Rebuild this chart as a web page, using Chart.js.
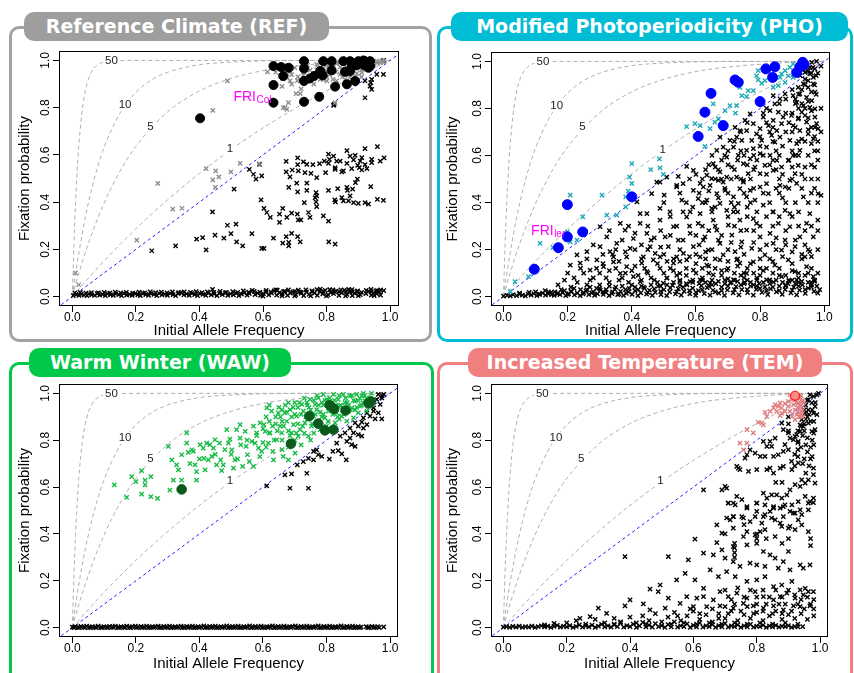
<!DOCTYPE html>
<html><head><meta charset="utf-8">
<script src="https://cdn.jsdelivr.net/npm/chart.js@4.4.1/dist/chart.umd.min.js"></script>
<style>
body{margin:0;background:#fff;width:854px;height:673px;overflow:hidden;position:relative;font-family:"DejaVu Sans",sans-serif}
.box{position:absolute;box-sizing:border-box;border:3px solid;border-radius:10px}
.pill{position:absolute;height:29px;line-height:29px;border-radius:10px;color:#fff;font-weight:bold;font-size:19px;text-align:center;white-space:nowrap}
canvas{position:absolute}
</style></head><body>
<div class="box" style="left:9px;top:26px;width:423px;height:316px;border-color:#a3a3a3"></div>
<div class="box" style="left:437px;top:26px;width:416px;height:316px;border-color:#00bcd4"></div>
<div class="box" style="left:9px;top:362px;width:425px;height:340px;border-color:#00c94a"></div>
<div class="box" style="left:437px;top:362px;width:416px;height:340px;border-color:#f08080"></div>
<div class="pill" style="left:24px;top:12px;width:305px;background:#9e9e9e">Reference Climate (REF)</div>
<div class="pill" style="left:451px;top:12px;width:397px;background:#00bcd4">Modified Photoperiodicity (PHO)</div>
<div class="pill" style="left:29px;top:348px;width:262px;background:#00c94a">Warm Winter (WAW)</div>
<div class="pill" style="left:468px;top:348px;width:354px;background:#f08080">Increased Temperature (TEM)</div>
<canvas id="cREF" width="397" height="296" style="left:10px;top:44px"></canvas>
<canvas id="cPHO" width="400" height="296" style="left:438px;top:44px"></canvas>
<canvas id="cWAW" width="397" height="296" style="left:10px;top:377px"></canvas>
<canvas id="cTEM" width="398" height="296" style="left:438px;top:377px"></canvas>
<script>
// ---------- reference curves (fixation probability for selection strengths 1,5,10,50) ----------
const curveS1 = [[0,0],[0.05,0.077],[0.1,0.151],[0.2,0.287],[0.3,0.41],[0.4,0.522],[0.5,0.623],[0.6,0.714],[0.7,0.796],[0.8,0.871],[0.9,0.939],[1,1]];
const curveS5 = [[0,0],[0.02,0.096],[0.05,0.223],[0.1,0.396],[0.15,0.531],[0.2,0.636],[0.3,0.782],[0.4,0.871],[0.5,0.924],[0.6,0.957],[0.7,0.976],[0.8,0.988],[0.9,0.996],[1,1]];
const curveS10 = [[0,0],[0.01,0.095],[0.02,0.181],[0.04,0.33],[0.06,0.451],[0.08,0.551],[0.1,0.632],[0.15,0.777],[0.2,0.865],[0.25,0.918],[0.3,0.95],[0.4,0.982],[0.5,0.993],[0.6,0.998],[0.8,1],[1,1]];
const curveS50 = [[0,0],[0.002,0.095],[0.005,0.221],[0.01,0.393],[0.015,0.528],[0.02,0.632],[0.03,0.777],[0.04,0.865],[0.05,0.918],[0.06,0.95],[0.08,0.982],[0.1,0.993],[0.15,0.999],[0.2,1],[1,1]];
const diagonal = [[-0.05,-0.05],[1.05,1.05]];
const curveLabels = ['50','10','5','1'];
const curveLabelX = [0.123,0.166,0.246,0.496];
const curveLabelY = [1.0,0.81,0.72,0.625];
const tickValues = [0,0.2,0.4,0.6,0.8,1.0];
const refFriLabel = [0.507,0.828];
const phoFriLabel = [0.086,0.261];

// ---------- REF ----------
const refBand = [[0.003,0.004],[0.012,0.008],[0.021,0.005],[0.028,0.01],[0.037,0.006],[0.046,0.004],[0.052,0.011],[0.061,0.007],[0.07,0.005],[0.078,0.012],[0.086,0.006],[0.095,0.009],[0.104,0.004],[0.111,0.012],[0.12,0.007],[0.129,0.005],[0.137,0.011],[0.146,0.008],[0.155,0.004],[0.162,0.013],[0.171,0.006],[0.18,0.009],[0.188,0.005],[0.197,0.012],[0.206,0.007],[0.214,0.004],[0.222,0.013],[0.231,0.008],[0.24,0.005],[0.248,0.012],[0.257,0.009],[0.266,0.004],[0.273,0.014],[0.282,0.007],[0.291,0.01],[0.299,0.005],[0.308,0.013],[0.317,0.008],[0.325,0.004],[0.333,0.012],[0.342,0.017],[0.351,0.007],[0.359,0.011],[0.368,0.005],[0.377,0.014],[0.385,0.008],[0.394,0.004],[0.402,0.012],[0.411,0.009],[0.42,0.005],[0.428,0.015],[0.437,0.007],[0.441,0.03],[0.446,0.011],[0.455,0.004],[0.463,0.013],[0.472,0.008],[0.481,0.016],[0.489,0.005],[0.498,0.011],[0.507,0.007],[0.515,0.014],[0.524,0.004],[0.532,0.01],[0.541,0.016],[0.55,0.006],[0.557,0.012],[0.566,0.026],[0.575,0.008],[0.583,0.015],[0.592,0.005],[0.601,0.012],[0.609,0.019],[0.618,0.007],[0.627,0.014],[0.635,0.024],[0.643,0.006],[0.652,0.017],[0.66,0.011],[0.669,0.022],[0.677,0.005],[0.686,0.014],[0.694,0.02],[0.703,0.008],[0.711,0.027],[0.72,0.013],[0.728,0.004],[0.737,0.019],[0.745,0.009],[0.754,0.024],[0.762,0.014],[0.771,0.005],[0.779,0.021],[0.788,0.011],[0.796,0.026],[0.805,0.007],[0.813,0.017],[0.822,0.012],[0.83,0.023],[0.839,0.005],[0.847,0.016],[0.856,0.027],[0.864,0.009],[0.873,0.019],[0.881,0.004],[0.889,0.013],[0.898,0.024],[0.906,0.008],[0.924,0.012],[0.932,0.022],[0.941,0.006],[0.949,0.016],[0.958,0.011],[0.966,0.02],[0.98,0.025],[0.6,0.002],[0.64,0.028],[0.66,0.003],[0.7,0.003],[0.72,0.018],[0.75,0.003],[0.78,0.031],[0.8,0.003],[0.82,0.028],[0.84,0.02],[0.86,0.003],[0.87,0.03],[0.88,0.02],[0.9,0.004],[0.91,0.018],[0.94,0.02],[0.95,0.004],[0.96,0.025],[0.97,0.006],
[0.008,0.016],[0.025,0.018],[0.043,0.015],[0.06,0.017],[0.082,0.016],[0.1,0.018],[0.118,0.015],[0.135,0.019],[0.152,0.016],[0.17,0.018],[0.19,0.015],[0.21,0.019],[0.228,0.016],[0.245,0.02],[0.262,0.017],[0.28,0.019],[0.298,0.016],[0.315,0.02],[0.335,0.017],[0.352,0.02],[0.372,0.018],[0.39,0.021],[0.408,0.017],[0.425,0.02],[0.445,0.018],[0.465,0.022],[0.485,0.018],[0.505,0.021],[0.52,0.018],[0.538,0.024],[0.555,0.019],[0.572,0.022],[0.59,0.019],[0.61,0.026],[0.625,0.02],[0.645,0.027],[0.665,0.021],[0.68,0.028],[0.7,0.022],[0.715,0.02],[0.735,0.028],[0.755,0.021],[0.77,0.029],[0.79,0.022],[0.81,0.029],[0.825,0.021],[0.845,0.028],[0.86,0.022],[0.88,0.029],[0.895,0.021],[0.925,0.026],[0.94,0.03],[0.955,0.024],[0.97,0.028]];
const refBlack = [[0.673,0.573],[0.709,0.587],[0.709,0.559],[0.727,0.570],[0.738,0.560],[0.757,0.559],[0.778,0.563],[0.806,0.603],[0.809,0.581],[0.832,0.574],[0.843,0.574],[0.864,0.618],[0.874,0.595],[0.885,0.579],[0.890,0.598],[0.906,0.574],[0.911,0.588],[0.921,0.627],[0.921,0.559],[0.942,0.581],[0.942,0.567],[0.960,0.635],[0.969,0.574],[0.981,0.587],[0.903,0.546],[0.927,0.542],[0.864,0.564],[0.853,0.532],[0.827,0.539],[0.806,0.564],[0.793,0.574],[0.822,0.595],[0.673,0.528],[0.692,0.536],[0.711,0.532],[0.732,0.525],[0.751,0.522],[0.769,0.504],[0.797,0.525],[0.827,0.546],[0.848,0.528],[0.879,0.542],[0.898,0.556],[0.911,0.536],
[0.557,0.539],[0.570,0.518],[0.578,0.497],[0.589,0.560],[0.596,0.511],[0.685,0.507],[0.706,0.480],[0.709,0.443],[0.738,0.480],[0.738,0.450],[0.767,0.440],[0.769,0.426],[0.806,0.450],[0.835,0.457],[0.864,0.462],[0.866,0.450],[0.882,0.455],[0.891,0.483],[0.897,0.497],[0.939,0.466],[0.681,0.462],[0.509,0.455],
[0.594,0.409],[0.603,0.373],[0.612,0.356],[0.623,0.335],[0.652,0.349],[0.652,0.314],[0.662,0.373],[0.675,0.335],[0.690,0.353],[0.708,0.349],[0.711,0.325],[0.719,0.325],[0.730,0.398],[0.743,0.356],[0.748,0.335],[0.764,0.419],[0.767,0.401],[0.769,0.381],[0.790,0.342],[0.806,0.319],[0.826,0.409],[0.828,0.401],[0.848,0.419],[0.853,0.405],[0.869,0.405],[0.874,0.426],[0.885,0.398],[0.900,0.395],[0.921,0.398],[0.932,0.391],[0.960,0.412],[0.979,0.407],
[0.441,0.359],[0.391,0.243],[0.410,0.250],[0.421,0.198],[0.449,0.260],[0.477,0.247],[0.488,0.302],[0.499,0.267],[0.515,0.307],[0.517,0.232],[0.536,0.215],[0.565,0.267],[0.596,0.204],[0.603,0.204],[0.633,0.247],[0.662,0.226],[0.673,0.254],[0.681,0.229],[0.681,0.215],[0.690,0.268],[0.709,0.254],[0.717,0.232],[0.807,0.232],[0.827,0.222],[0.325,0.215],[0.250,0.194],
[0.921,0.913],[0.942,0.920],[0.958,0.941],[0.979,0.941],[0.937,0.891],[0.942,0.877],[0.939,0.906],[0.921,0.842],[0.822,0.810],[0.979,0.997],[0.98,1.0],[0.824,0.814]];
const refGray = [[0.203,0.239],[0.269,0.479],[0.316,0.370],[0.345,0.374],[0.421,0.542],[0.442,0.494],[0.451,0.532],[0.450,0.462],[0.461,0.507],[0.499,0.528],[0.528,0.564],[0.588,0.563],
[0.614,0.952],[0.488,0.913],[0.442,0.789],[0.662,0.922],[0.675,0.931],[0.685,0.913],[0.708,0.915],[0.717,0.915],[0.727,0.937],[0.748,0.959],[0.769,0.983],[0.774,0.969],[0.790,0.969],[0.801,0.955],[0.806,0.976],[0.816,0.987],[0.832,0.987],[0.843,0.973],[0.864,0.969],[0.884,0.990],[0.906,0.987],[0.927,0.997],[0.942,0.987],[0.958,0.997],[0.974,0.997],[0.980,0.997],[0.843,0.941],[0.858,0.920],[0.874,0.927],[0.895,0.945],[0.911,0.948],[0.790,0.920],[0.801,0.913],[0.832,0.913],[0.717,0.859],[0.704,0.859],[0.680,0.821],[0.664,0.800],[0.675,0.793],[0.827,0.821],[0.664,0.979],[0.685,0.955],[0.654,0.934],[0.670,0.800],[0.02,0.05],[0.01,0.1],
[0.64,0.95],[0.65,0.97],[0.67,0.96],[0.69,0.94],[0.7,0.97],[0.71,0.93],[0.73,0.95],[0.74,0.98],[0.76,0.94],[0.77,0.96],[0.78,0.99],[0.79,0.95],[0.8,0.98],[0.81,0.94],[0.82,0.97],[0.83,0.95],[0.84,0.99],[0.85,0.96],[0.86,0.94],[0.87,0.98],[0.88,0.95],[0.89,0.97],[0.9,0.99],[0.91,0.96],[0.92,0.98],[0.93,0.96],[0.94,0.99],[0.95,0.98],[0.96,0.99],[0.97,0.99],[0.66,0.89],[0.69,0.9],[0.72,0.88],[0.74,0.91],[0.76,0.9],[0.78,0.92],[0.8,0.93],[0.82,0.92],[0.85,0.93],[0.87,0.94],[0.89,0.93],[0.91,0.93]];
const refCircles = [[0.633,0.976],[0.657,0.972],[0.681,0.969],[0.729,0.997],[0.729,0.966],[0.790,0.997],[0.816,0.997],[0.853,0.997],[0.874,0.997],[0.900,0.997],[0.921,0.997],[0.937,0.997],[0.780,0.955],[0.816,0.958],[0.858,0.952],[0.879,0.976],[0.916,0.983],[0.932,0.969],[0.664,0.934],[0.729,0.913],[0.748,0.924],[0.761,0.934],[0.788,0.937],[0.827,0.889],[0.864,0.899],[0.890,0.913],[0.633,0.896],[0.729,0.825],[0.777,0.846],[0.633,0.821],[0.402,0.755],[0.874,0.955],[0.895,0.979],[0.921,0.979],[0.937,0.976],[0.916,1.0]];

// ---------- PHO ----------
const phoBand = [[0.0,0.002],[0.012,0.005],[0.021,0.003],[0.03,0.008],[0.041,0.004],[0.05,0.01],[0.059,0.006],[0.068,0.003],[0.077,0.011],[0.086,0.006],[0.095,0.013],[0.104,0.004],[0.113,0.009],[0.122,0.015],[0.131,0.006],[0.14,0.011],[0.149,0.018],[0.158,0.005],[0.167,0.012],[0.176,0.008],[0.185,0.017],[0.194,0.004],[0.203,0.013],[0.212,0.021],[0.221,0.007],[0.23,0.015],[0.239,0.004],[0.248,0.011],[0.257,0.024],[0.266,0.008],[0.275,0.016],[0.284,0.005],[0.293,0.012],[0.302,0.027],[0.311,0.009],[0.32,0.018],[0.329,0.004],[0.338,0.013],[0.347,0.031],[0.356,0.008],[0.365,0.022],[0.374,0.005],[0.383,0.014],[0.392,0.035],[0.401,0.009],[0.41,0.024],[0.419,0.004],[0.428,0.016],[0.437,0.04],[0.446,0.01],[0.455,0.027],[0.464,0.005],[0.473,0.018],[0.482,0.044],[0.491,0.008],[0.5,0.03],[0.509,0.004],[0.518,0.02],[0.527,0.048],[0.536,0.011],[0.545,0.033],[0.554,0.006],[0.563,0.022],[0.572,0.05],[0.581,0.012],[0.59,0.036],[0.599,0.005],[0.608,0.025],[0.617,0.047],[0.626,0.013],[0.635,0.038],[0.644,0.006],[0.653,0.027],[0.662,0.055],[0.671,0.015],[0.68,0.04],[0.689,0.005],[0.698,0.028],[0.707,0.058],[0.716,0.016],[0.725,0.042],[0.734,0.007],[0.743,0.03],[0.752,0.06],[0.761,0.017],[0.77,0.044],[0.779,0.006],[0.788,0.031],[0.797,0.055],[0.806,0.018],[0.815,0.041],[0.824,0.008],[0.833,0.033],[0.842,0.062],[0.851,0.02],[0.86,0.045],[0.869,0.009],[0.878,0.03],[0.887,0.055],[0.896,0.016],[0.905,0.04],[0.914,0.007],[0.923,0.027],[0.932,0.05],[0.941,0.014],[0.95,0.036],[0.959,0.06],[0.968,0.022],[0.977,0.045],[0.986,0.03],
[0.15,0.008],[0.2,0.009],[0.25,0.017],[0.28,0.02],[0.31,0.02],[0.34,0.02],[0.36,0.012],[0.39,0.02],[0.42,0.03],[0.45,0.018],[0.47,0.033],[0.49,0.022],[0.52,0.037],[0.54,0.02],[0.56,0.04],[0.58,0.025],[0.6,0.018],[0.62,0.03],[0.64,0.045],[0.66,0.02],[0.68,0.025],[0.7,0.045],[0.72,0.03],[0.74,0.05],[0.76,0.03],[0.78,0.05],[0.8,0.035],[0.82,0.025],[0.84,0.04],[0.86,0.025],[0.88,0.045],[0.9,0.028],[0.92,0.045],[0.94,0.03],[0.96,0.04],[0.98,0.015],[0.7,0.075],[0.75,0.08],[0.62,0.07],[0.55,0.065],[0.48,0.06],[0.85,0.07],[0.9,0.07],[0.4,0.05],[0.33,0.045],[0.27,0.04],[0.22,0.035],[0.18,0.03],
[0.1,0.02],[0.13,0.025],[0.16,0.02],[0.19,0.025],[0.24,0.03],[0.29,0.035],[0.35,0.04],[0.38,0.03],[0.43,0.045],[0.46,0.05],[0.51,0.05],[0.53,0.06],[0.57,0.055],[0.59,0.06],[0.63,0.06],[0.67,0.065],[0.69,0.055],[0.73,0.065],[0.77,0.06],[0.79,0.07],[0.81,0.06],[0.83,0.07],[0.87,0.06],[0.89,0.065],[0.91,0.055],[0.93,0.065],[0.95,0.06],[0.97,0.065],
[0.05,0.015],[0.08,0.018],[0.11,0.01],[0.14,0.02],[0.17,0.015],[0.21,0.022],[0.26,0.03],[0.3,0.035],[0.32,0.03],[0.37,0.045],[0.41,0.04],[0.44,0.035],[0.49,0.045],[0.55,0.05],[0.61,0.055],[0.65,0.05],[0.71,0.06],[0.75,0.055],[0.79,0.045],[0.83,0.055],[0.88,0.05],[0.92,0.06],[0.96,0.05]];
const phoBlack = [[0.976,1.0],[0.961,0.996],[0.945,0.989],[0.955,0.975],[0.971,0.968],[0.940,0.953],[0.955,0.947],[0.966,0.932],[0.950,0.918],[0.935,0.904],[0.919,0.890],[0.950,0.890],[0.971,0.869],[0.924,0.862],[0.903,0.855],[0.945,0.847],[0.914,0.826],[0.935,0.812],[0.955,0.805],[0.971,0.798],[0.930,0.784],[0.898,0.770],[0.919,0.756],[0.945,0.742],[0.971,0.720],[0.981,0.714],[0.903,0.727],[0.924,0.706],[0.950,0.692],[0.966,0.671],[0.893,0.664],[0.914,0.650],[0.924,0.622],[0.903,0.600],[0.888,0.579],[0.919,0.558],[0.909,0.523],[0.893,0.494],[0.878,0.466],[0.914,0.481],
[0.878,0.862],[0.862,0.841],[0.841,0.855],[0.846,0.819],[0.831,0.791],[0.857,0.784],[0.872,0.763],[0.841,0.749],[0.867,0.735],[0.852,0.706],[0.826,0.727],[0.810,0.763],[0.800,0.714],[0.836,0.685],[0.862,0.678],[0.846,0.657],[0.820,0.636],[0.805,0.664],[0.789,0.692],[0.779,0.735],[0.769,0.777],[0.753,0.749],[0.758,0.706],[0.774,0.664],[0.779,0.629],[0.800,0.608],[0.831,0.600],[0.852,0.579],[0.867,0.551],[0.841,0.537],[0.815,0.558],[0.800,0.523],[0.784,0.551],[0.769,0.586],[0.758,0.622],[0.743,0.664],[0.737,0.706],[0.722,0.720],[0.727,0.678],[0.717,0.636],[0.732,0.600],[0.748,0.565],[0.763,0.523],[0.748,0.494],[0.727,0.508],[0.712,0.551],[0.696,0.593],[0.685,0.636],[0.706,0.664],[0.675,0.678],[0.665,0.622],[0.654,0.565],[0.675,0.530],[0.696,0.508],[0.670,0.494],[0.649,0.502],[0.634,0.516],[0.613,0.481],[0.592,0.537],[0.571,0.554],[0.540,0.473],[0.488,0.487],[0.509,0.508],[0.545,0.511],[0.971,0.763],[0.976,0.735],[0.961,0.833],[0.966,0.904],
[0.95,0.96],[0.965,0.975],[0.935,0.965],[0.925,0.94],[0.96,0.95],[0.975,0.94],[0.94,0.925],[0.93,0.88],[0.96,0.87],[0.975,0.86],[0.91,0.84],[0.95,0.83],[0.92,0.8],[0.96,0.79],[0.94,0.77],[0.91,0.72],[0.95,0.71],[0.93,0.67],[0.96,0.65],[0.92,0.6],[0.95,0.6],[0.98,0.62],[0.9,0.62],[0.94,0.55],[0.97,0.55],[0.93,0.52],[0.96,0.5],
[0.478,0.487],[0.501,0.431],[0.540,0.466],[0.556,0.410],[0.592,0.452],[0.607,0.417],[0.623,0.466],[0.634,0.410],[0.649,0.375],[0.665,0.438],[0.675,0.396],[0.691,0.452],[0.696,0.367],[0.717,0.424],[0.732,0.396],[0.737,0.459],[0.758,0.424],[0.769,0.452],[0.784,0.410],[0.800,0.466],[0.810,0.389],[0.826,0.438],[0.841,0.360],[0.862,0.473],[0.878,0.367],[0.893,0.353],[0.935,0.424],[0.955,0.353],[0.981,0.438],[0.447,0.353],[0.462,0.438],[0.416,0.403],[0.426,0.353],[0.488,0.375],[0.519,0.360],[0.582,0.360],[0.613,0.353],[0.644,0.473],[0.685,0.487],[0.717,0.360],[0.748,0.487],
[0.301,0.297],[0.322,0.254],[0.332,0.191],[0.353,0.226],[0.364,0.311],[0.379,0.283],[0.395,0.205],[0.405,0.247],[0.426,0.311],[0.447,0.269],[0.457,0.212],[0.473,0.184],[0.488,0.325],[0.504,0.254],[0.514,0.212],[0.530,0.297],[0.545,0.240],[0.561,0.184],[0.571,0.339],[0.582,0.269],[0.592,0.212],[0.607,0.311],[0.613,0.169],[0.628,0.254],[0.639,0.198],[0.654,0.325],[0.665,0.283],[0.675,0.226],[0.685,0.177],[0.701,0.304],[0.712,0.261],[0.722,0.191],[0.737,0.325],[0.743,0.233],[0.758,0.283],[0.774,0.205],[0.789,0.311],[0.800,0.254],[0.815,0.177],[0.831,0.269],[0.841,0.226],[0.857,0.311],[0.867,0.198],[0.878,0.240],[0.893,0.297],[0.909,0.212],[0.924,0.254],[0.945,0.311],[0.966,0.254],[0.98,0.325],[0.940,0.169],[0.779,0.332],[0.623,0.240],[0.540,0.169],[0.488,0.169],[0.436,0.169],[0.384,0.169],[0.343,0.169],[0.260,0.191],[0.229,0.177],[0.301,0.212],[0.99,0.43],[0.955,0.191],
[0.208,0.134],[0.239,0.142],[0.270,0.113],[0.291,0.156],[0.312,0.127],[0.343,0.148],[0.364,0.099],[0.384,0.127],[0.405,0.085],[0.431,0.142],[0.447,0.106],[0.467,0.156],[0.488,0.120],[0.509,0.078],[0.530,0.142],[0.550,0.099],[0.571,0.156],[0.592,0.113],[0.613,0.071],[0.634,0.134],[0.654,0.092],[0.675,0.156],[0.696,0.113],[0.717,0.071],[0.737,0.142],[0.758,0.099],[0.779,0.148],[0.800,0.120],[0.820,0.071],[0.846,0.134],[0.867,0.085],[0.888,0.156],[0.909,0.106],[0.914,0.071],[0.945,0.127],[0.966,0.085],[0.727,0.156],[0.644,0.057],[0.582,0.064],[0.498,0.057],[0.426,0.064],
[0.81,0.78],[0.82,0.74],[0.83,0.7],[0.84,0.66],[0.85,0.62],[0.86,0.6],[0.87,0.64],[0.88,0.7],[0.89,0.74],[0.9,0.78],[0.91,0.82],[0.92,0.86],[0.93,0.82],[0.94,0.8],[0.95,0.76],[0.96,0.72],[0.97,0.68],[0.98,0.66],[0.89,0.58],[0.9,0.55],[0.91,0.6],[0.92,0.66],[0.87,0.52],[0.86,0.5],[0.85,0.54],[0.84,0.58],[0.83,0.56],[0.82,0.52],[0.81,0.6],[0.8,0.64],[0.79,0.58],[0.78,0.54],[0.77,0.5],[0.76,0.56],[0.75,0.6],[0.74,0.62],[0.73,0.58],[0.72,0.54],[0.71,0.5],[0.7,0.56],[0.69,0.6],[0.68,0.58],[0.67,0.54],[0.66,0.5],[0.65,0.6],[0.64,0.56],[0.63,0.54],[0.62,0.5],[0.6,0.52],[0.58,0.5],[0.56,0.48],
[0.55,0.44],[0.57,0.4],[0.59,0.38],[0.61,0.44],[0.63,0.4],[0.65,0.36],[0.67,0.42],[0.69,0.46],[0.71,0.4],[0.73,0.36],[0.75,0.44],[0.77,0.4],[0.79,0.36],[0.81,0.44],[0.83,0.4],[0.85,0.46],[0.87,0.42],[0.89,0.46],[0.91,0.4],[0.93,0.46],[0.95,0.4],[0.97,0.46],[0.5,0.4],[0.52,0.34],[0.54,0.3],[0.56,0.36],[0.58,0.3],[0.6,0.26],[0.62,0.3],[0.64,0.28],[0.66,0.3],[0.68,0.26],[0.7,0.34],[0.72,0.3],[0.74,0.28],[0.76,0.34],[0.78,0.28],[0.8,0.3],[0.82,0.34],[0.84,0.3],[0.86,0.34],[0.88,0.28],[0.9,0.34],[0.92,0.3],[0.94,0.28],[0.96,0.3],[0.98,0.28],[0.45,0.3],[0.47,0.25],[0.49,0.28],[0.41,0.27],[0.43,0.22],[0.37,0.24],[0.39,0.3],[0.33,0.28],[0.35,0.2],[0.28,0.22],[0.31,0.18],
[0.2,0.1],[0.22,0.08],[0.25,0.1],[0.27,0.07],[0.3,0.1],[0.32,0.08],[0.35,0.12],[0.37,0.08],[0.4,0.11],[0.42,0.09],[0.44,0.12],[0.46,0.08],[0.5,0.1],[0.52,0.12],[0.54,0.09],[0.57,0.12],[0.6,0.1],[0.62,0.12],[0.64,0.1],[0.66,0.12],[0.68,0.09],[0.7,0.12],[0.72,0.1],[0.74,0.09],[0.76,0.12],[0.78,0.1],[0.8,0.09],[0.82,0.12],[0.84,0.1],[0.86,0.12],[0.88,0.09],[0.9,0.11],[0.92,0.1],[0.94,0.09],[0.96,0.12],[0.98,0.1],[0.45,0.2],[0.5,0.18],[0.55,0.2],[0.6,0.18],[0.65,0.2],[0.7,0.2],[0.75,0.18],[0.8,0.2],[0.85,0.2],[0.9,0.19],[0.95,0.2],[0.53,0.16],[0.63,0.16],[0.73,0.16],[0.83,0.16],[0.93,0.16],
[0.17,0.05],[0.19,0.07],[0.21,0.04],[0.23,0.06],[0.24,0.12],[0.26,0.05],[0.26,0.16],[0.28,0.08],[0.29,0.12],[0.3,0.05],[0.31,0.14],[0.33,0.06],[0.33,0.11],[0.34,0.18],[0.36,0.07],[0.36,0.15],[0.38,0.1],[0.38,0.19],[0.39,0.06],[0.41,0.13],[0.41,0.2],[0.43,0.07],[0.43,0.16],[0.45,0.1],[0.46,0.24],[0.47,0.07],[0.48,0.14],[0.49,0.21],[0.51,0.08],[0.51,0.15],[0.52,0.26],[0.53,0.11],[0.55,0.07],[0.55,0.15],[0.56,0.24],[0.57,0.09],[0.58,0.17],[0.59,0.07],[0.6,0.14],[0.61,0.22],[0.62,0.08],[0.63,0.19],[0.64,0.13],[0.65,0.07],[0.66,0.16],[0.67,0.24],[0.68,0.11],[0.69,0.07],[0.7,0.15],[0.71,0.23],[0.72,0.07],[0.73,0.13],[0.74,0.21],[0.75,0.1],[0.76,0.07],[0.77,0.14],[0.78,0.23],[0.79,0.08],[0.8,0.16],[0.81,0.11],[0.82,0.22],[0.83,0.07],[0.84,0.15],[0.85,0.25],[0.86,0.09],[0.87,0.17],[0.88,0.22],[0.89,0.07],[0.9,0.14],[0.91,0.24],[0.92,0.08],[0.93,0.18],[0.94,0.22],[0.95,0.1],[0.96,0.17],[0.97,0.07],[0.98,0.2],
[0.62,0.4],[0.64,0.45],[0.66,0.55],[0.68,0.5],[0.7,0.62],[0.72,0.66],[0.74,0.7],[0.76,0.74],[0.78,0.6],[0.8,0.68],[0.82,0.8],[0.84,0.72],[0.86,0.82],[0.88,0.78],[0.9,0.7],[0.92,0.76],[0.94,0.66],[0.96,0.56],[0.98,0.5],[0.66,0.38],[0.7,0.44],[0.74,0.5],[0.78,0.46],[0.82,0.48],[0.86,0.44],[0.9,0.5],[0.94,0.5],[0.98,0.4],[0.72,0.38],[0.76,0.38],[0.84,0.36],[0.88,0.4],[0.92,0.36],[0.96,0.44],[0.98,0.58],[0.97,0.62],[0.99,0.7],[0.99,0.8],[0.88,0.84],[0.9,0.88],[0.94,0.9],[0.97,0.9],[0.98,0.95],[0.99,0.98]];
const phoTeal = [[0.903,0.989],[0.893,0.975],[0.878,0.961],[0.867,0.947],[0.862,0.932],[0.888,0.939],[0.903,0.932],[0.878,0.911],[0.857,0.897],[0.841,0.890],[0.815,0.918],[0.805,0.907],[0.794,0.921],[0.789,0.939],[0.779,0.876],[0.763,0.876],[0.758,0.850],[0.743,0.855],[0.727,0.812],[0.706,0.812],[0.691,0.791],[0.670,0.756],[0.659,0.742],[0.644,0.714],[0.613,0.727],[0.597,0.735],[0.571,0.723],[0.685,0.735],[0.723,0.780],[0.628,0.639],[0.486,0.586],[0.459,0.540],[0.488,0.547],[0.400,0.565],[0.393,0.508],[0.498,0.520],[0.654,0.819],[0.737,0.890],[0.794,0.961],
[0.208,0.431],[0.307,0.431],[0.322,0.346],[0.353,0.346],[0.381,0.424],[0.389,0.448],[0.381,0.381],[0.400,0.481],[0.247,0.339],[0.199,0.275],[0.114,0.226],[0.154,0.208],[0.229,0.240],[0.208,0.233],[0.096,0.130],[0.078,0.085],[0.036,0.064],[0.021,0.021]];
const phoCircles = [[0.818,0.968],[0.846,0.977],[0.839,0.932],[0.914,0.953],[0.924,0.977],[0.933,0.996],[0.937,0.986],[0.722,0.921],[0.732,0.911],[0.647,0.864],[0.628,0.784],[0.685,0.727],[0.800,0.829],[0.607,0.681],[0.199,0.391],[0.400,0.424],[0.247,0.275],[0.199,0.254],[0.171,0.208],[0.096,0.116]];

// ---------- WAW ----------
const wawBand = [[0.0,0.002],[0.009,0.004],[0.018,0.001],[0.027,0.005],[0.036,0.002],[0.045,0.006],[0.054,0.001],[0.063,0.004],[0.072,0.002],[0.081,0.006],[0.09,0.001],[0.099,0.004],[0.108,0.001],[0.117,0.005],[0.126,0.003],[0.135,0.006],[0.144,0.001],[0.153,0.004],[0.162,0.002],[0.171,0.006],[0.18,0.001],[0.189,0.004],[0.198,0.006],[0.207,0.002],[0.216,0.005],[0.225,0.002],[0.234,0.006],[0.243,0.001],[0.252,0.004],[0.261,0.003],[0.27,0.006],[0.279,0.001],[0.288,0.005],[0.297,0.002],[0.306,0.006],[0.315,0.001],[0.324,0.004],[0.333,0.003],[0.342,0.006],[0.351,0.001],[0.36,0.005],[0.369,0.002],[0.378,0.006],[0.387,0.001],[0.396,0.004],[0.405,0.003],[0.414,0.007],[0.423,0.001],[0.432,0.005],[0.441,0.002],[0.45,0.006],[0.459,0.001],[0.468,0.004],[0.477,0.003],[0.486,0.007],[0.495,0.001],[0.504,0.005],[0.513,0.002],[0.522,0.006],[0.531,0.001],[0.54,0.004],[0.549,0.003],[0.558,0.007],[0.567,0.001],[0.576,0.005],[0.585,0.002],[0.594,0.006],[0.603,0.001],[0.612,0.004],[0.621,0.003],[0.63,0.007],[0.639,0.001],[0.648,0.005],[0.657,0.002],[0.666,0.006],[0.675,0.001],[0.684,0.004],[0.693,0.003],[0.702,0.007],[0.711,0.001],[0.72,0.005],[0.729,0.002],[0.738,0.006],[0.747,0.001],[0.756,0.004],[0.765,0.003],[0.774,0.007],[0.783,0.001],[0.792,0.005],[0.801,0.002],[0.81,0.006],[0.819,0.001],[0.828,0.004],[0.837,0.003],[0.846,0.007],[0.855,0.001],[0.864,0.005],[0.873,0.002],[0.882,0.006],[0.891,0.001],[0.9,0.004],[0.909,0.002],[0.925,0.004],[0.934,0.001],[0.943,0.005],[0.952,0.002],[0.961,0.004],[0.98,0.003],
[0.005,0],[0.022,0],[0.04,0],[0.058,0],[0.076,0],[0.094,0],[0.112,0],[0.13,0],[0.148,0],[0.166,0],[0.184,0],[0.202,0],[0.22,0],[0.238,0],[0.256,0],[0.274,0],[0.292,0],[0.31,0],[0.328,0],[0.346,0],[0.364,0],[0.382,0],[0.4,0],[0.418,0],[0.436,0],[0.454,0],[0.472,0],[0.49,0],[0.508,0],[0.526,0],[0.544,0],[0.562,0],[0.58,0],[0.598,0],[0.616,0],[0.634,0],[0.652,0],[0.67,0],[0.688,0],[0.706,0],[0.724,0],[0.742,0],[0.76,0],[0.778,0],[0.796,0],[0.814,0],[0.832,0],[0.85,0],[0.868,0],[0.886,0],[0.904,0],[0.93,0],[0.948,0],[0.966,0]];
const wawBlack = [[0.612,0.605],[0.669,0.652],[0.690,0.656],[0.685,0.595],[0.743,0.595],[0.738,0.659],[0.708,0.695],[0.743,0.723],[0.759,0.752],[0.774,0.738],[0.785,0.731],[0.809,0.719],[0.820,0.752],[0.837,0.756],[0.848,0.742],[0.862,0.716],[0.864,0.795],[0.879,0.781],[0.890,0.774],[0.900,0.824],[0.885,0.831],[0.911,0.817],[0.832,0.788],[0.843,0.817],[0.858,0.831],[0.874,0.852],[0.890,0.874],[0.900,0.860],[0.911,0.877],[0.916,0.895],[0.927,0.917],[0.937,0.903],[0.953,0.891],[0.974,0.891],[0.963,0.917],[0.948,0.938],[0.969,0.953],[0.958,0.974],[0.974,0.981],[0.98,0.996],[0.975,0.99],[0.963,0.996],[0.948,0.924],[0.916,0.852],[0.927,0.867],[0.874,0.809],[0.759,0.716],[0.727,0.709],[0.769,0.759]];
const wawGreen = [[0.132,0.609],[0.171,0.556],[0.187,0.645],[0.200,0.623],[0.218,0.670],[0.229,0.630],[0.229,0.609],[0.247,0.645],[0.218,0.570],[0.247,0.559],[0.268,0.552],[0.302,0.774],[0.313,0.716],[0.318,0.630],[0.307,0.587],[0.328,0.695],[0.334,0.673],[0.344,0.738],[0.344,0.630],[0.360,0.831],[0.360,0.788],[0.365,0.748],[0.376,0.759],[0.381,0.752],[0.386,0.695],[0.391,0.666],[0.391,0.630],[0.402,0.781],[0.412,0.766],[0.414,0.723],[0.418,0.673],[0.423,0.788],[0.428,0.716],[0.433,0.781],[0.439,0.731],[0.444,0.766],[0.449,0.802],[0.454,0.695],[0.463,0.788],[0.467,0.716],[0.470,0.670],[0.475,0.695],[0.486,0.845],[0.491,0.788],[0.496,0.805],[0.502,0.759],[0.507,0.681],[0.512,0.716],[0.517,0.845],[0.528,0.867],[0.528,0.809],[0.536,0.688],[0.544,0.838],[0.547,0.774],[0.551,0.738],[0.557,0.709],[0.565,0.795],[0.570,0.688],[0.575,0.788],[0.580,0.831],[0.586,0.766],[0.591,0.874],[0.596,0.752],[0.603,0.867],[0.607,0.838],[0.612,0.938],[0.617,0.788],[0.622,0.831],[0.627,0.924],[0.631,0.752],[0.633,0.716],[0.643,0.802],[0.648,0.917],[0.654,0.860],[0.659,0.831],[0.664,0.731],[0.669,0.917],[0.675,0.881],[0.680,0.716],[0.685,0.931],[0.690,0.831],[0.696,0.867],[0.701,0.745],[0.706,0.903],[0.711,0.817],[0.717,0.845],[0.722,0.953],[0.727,0.924],[0.732,0.874],[0.738,0.960],[0.743,0.817],[0.748,0.974],[0.753,0.860],[0.759,0.903],[0.764,0.953],[0.769,0.931],[0.774,0.981],[0.780,0.845],[0.785,0.960],[0.790,0.996],[0.795,0.895],[0.801,0.974],[0.806,0.924],[0.811,0.838],[0.816,0.953],[0.822,0.996],[0.827,0.874],[0.832,0.917],[0.837,0.974],[0.843,0.946],[0.848,0.903],[0.853,0.996],[0.858,0.960],[0.864,0.881],[0.869,0.924],[0.874,0.989],[0.879,0.938],[0.885,0.895],[0.890,0.967],[0.895,0.996],[0.900,0.917],[0.906,0.946],[0.911,0.989],[0.916,1.0],[0.921,0.967],[0.927,0.924],[0.932,0.946],[0.937,0.981],[0.942,1.0],[0.948,0.974],
[0.63,0.86],[0.64,0.9],[0.65,0.94],[0.66,0.88],[0.67,0.95],[0.68,0.84],[0.69,0.9],[0.7,0.96],[0.71,0.87],[0.72,0.91],[0.73,0.98],[0.74,0.89],[0.75,0.93],[0.76,0.97],[0.77,0.88],[0.78,0.92],[0.79,0.95],[0.8,0.86],[0.81,0.98],[0.82,0.91],[0.83,0.95],[0.84,0.99],[0.85,0.93],[0.86,0.98],[0.87,0.95],[0.88,0.99],[0.89,0.93],[0.9,0.97],[0.91,0.95],[0.92,0.99],[0.71,0.94],[0.74,0.95],[0.77,0.99],[0.79,0.91],[0.82,0.94],[0.84,0.89],[0.86,0.92],[0.66,0.8],[0.69,0.79],[0.73,0.83],[0.76,0.83],[0.79,0.85],[0.62,0.83],[0.68,0.77],[0.72,0.78],[0.75,0.8],[0.58,0.82],[0.6,0.79],[0.66,0.76],[0.7,0.8],
[0.6,0.85],[0.61,0.9],[0.62,0.88],[0.635,0.8],[0.645,0.84],[0.655,0.9],[0.665,0.86],[0.675,0.92],[0.685,0.82],[0.695,0.94],[0.705,0.83],[0.715,0.96],[0.725,0.86],[0.735,0.9],[0.745,0.94],[0.755,0.87],[0.765,0.91],[0.775,0.95],[0.785,0.9],[0.795,0.97],[0.805,0.88],[0.815,0.93],[0.825,0.97],[0.835,0.9],[0.845,0.95],[0.855,0.91],[0.865,0.96],[0.875,0.93],[0.885,0.97],[0.895,0.94],[0.905,0.98],[0.915,0.96],[0.925,0.98],[0.935,0.97],[0.7,0.91],[0.68,0.96],[0.66,0.93],[0.64,0.87],[0.62,0.95],[0.57,0.86],[0.55,0.8],[0.53,0.78],[0.5,0.74],[0.48,0.76],[0.45,0.74],[0.4,0.72],[0.37,0.7],[0.52,0.72],[0.59,0.73],[0.61,0.77]];
const wawCircles = [[0.344,0.590],[0.688,0.785],[0.746,0.903],[0.774,0.871],[0.795,0.842],[0.822,0.845],[0.824,0.934],[0.860,0.927],[0.932,0.957],[0.94,0.965],[0.81,0.95]];

// ---------- TEM ----------
const temBand = [[0.0,0.002],[0.01,0.004],[0.02,0.001],[0.03,0.005],[0.04,0.002],[0.05,0.006],[0.06,0.001],[0.07,0.004],[0.08,0.002],[0.09,0.006],[0.1,0.001],[0.11,0.004],[0.12,0.008],[0.13,0.003],[0.14,0.006],[0.15,0.001],[0.16,0.005],[0.17,0.01],[0.18,0.002],[0.19,0.006],[0.2,0.003],[0.21,0.009],[0.22,0.001],[0.23,0.005],[0.24,0.012],[0.25,0.002],[0.26,0.007],[0.27,0.003],[0.28,0.011],[0.29,0.001],[0.3,0.006],[0.31,0.014],[0.32,0.003],[0.33,0.008],[0.34,0.002],[0.35,0.012],[0.36,0.004],[0.37,0.018],[0.38,0.002],[0.39,0.009],[0.4,0.004],[0.41,0.015],[0.42,0.001],[0.43,0.007],[0.44,0.022],[0.45,0.003],[0.46,0.011],[0.47,0.002],[0.48,0.017],[0.49,0.004],[0.5,0.009],[0.51,0.001],[0.52,0.013],[0.53,0.003],[0.54,0.025],[0.55,0.002],[0.56,0.008],[0.57,0.004],[0.58,0.016],[0.59,0.001],[0.6,0.01],[0.61,0.003],[0.62,0.02],[0.63,0.002],[0.64,0.008],[0.65,0.004],[0.66,0.013],[0.67,0.001],[0.68,0.009],[0.69,0.003],[0.7,0.018],[0.71,0.002],[0.72,0.007],[0.73,0.004],[0.74,0.012],[0.75,0.001],[0.76,0.008],[0.77,0.003],[0.78,0.014],[0.79,0.002],[0.8,0.006],[0.81,0.004],[0.82,0.011],[0.83,0.001],[0.84,0.007],[0.85,0.003],[0.86,0.01],[0.87,0.002],[0.88,0.006],[0.89,0.004],[0.9,0.009],[0.91,0.001],[0.92,0.005],[0.93,0.003],[0.945,0.004]];
const temBlack = [[0.968,0.994],[0.979,0.987],[0.990,0.994],[0.995,1.0],[0.963,0.973],[0.974,0.959],[0.984,0.944],[0.963,0.930],[0.979,0.916],[0.990,0.909],[0.953,0.916],[0.942,0.888],[0.937,0.866],[0.947,0.859],[0.963,0.873],[0.974,0.838],[0.984,0.845],[0.937,0.838],[0.926,0.824],[0.916,0.802],[0.931,0.795],[0.921,0.816],[0.905,0.809],[0.900,0.831],[0.884,0.845],[0.879,0.873],[0.889,0.781],[0.884,0.752],[0.868,0.738],[0.853,0.731],[0.858,0.809],[0.842,0.795],[0.847,0.774],[0.832,0.774],[0.821,0.795],[0.826,0.731],[0.811,0.731],[0.795,0.745],[0.779,0.759],[0.769,0.738],[0.763,0.724],[0.742,0.681],[0.737,0.688],[0.747,0.674],[0.774,0.667],[0.800,0.674],[0.832,0.674],[0.842,0.681],[0.853,0.660],[0.874,0.681],[0.884,0.688],[0.911,0.674],[0.931,0.703],[0.979,0.681],[0.979,0.653],[0.963,0.631],[0.984,0.617],[0.953,0.617],[0.937,0.603],[0.942,0.631],[0.921,0.610],[0.905,0.588],[0.895,0.567],[0.879,0.553],[0.863,0.567],[0.847,0.567],[0.832,0.553],[0.821,0.574],[0.800,0.532],[0.769,0.510],[0.753,0.546],[0.737,0.560],[0.726,0.532],[0.705,0.596],[0.700,0.603],[0.690,0.588],[0.632,0.588],[0.710,0.532],[0.726,0.474],[0.716,0.460],[0.753,0.474],[0.779,0.453],[0.800,0.496],[0.821,0.474],[0.842,0.496],[0.853,0.517],[0.874,0.510],[0.889,0.524],[0.905,0.496],[0.921,0.489],[0.931,0.538],[0.953,0.560],[0.968,0.538],[0.979,0.553],[0.963,0.503],[0.931,0.460],[0.905,0.432],[0.874,0.446],[0.847,0.468],[0.816,0.446],[0.674,0.439],
[0.955,0.95],[0.96,0.97],[0.95,0.93],[0.965,0.91],[0.955,0.89],[0.97,0.88],[0.96,0.9],[0.975,0.93],[0.95,0.87],[0.94,0.86],[0.95,0.84],[0.945,0.82],[0.96,0.81],[0.975,0.8],[0.955,0.78],[0.94,0.77],[0.96,0.75],[0.975,0.73],[0.95,0.72],[0.93,0.76],[0.92,0.74],[0.945,0.7],[0.965,0.69],[0.955,0.66],
[0.9,0.9],[0.9,0.87],[0.9,0.84],[0.9,0.76],[0.91,0.71],[0.93,0.73],[0.93,0.79],[0.93,0.84],[0.97,0.77],[0.97,0.72],[0.98,0.78],[0.98,0.83],[0.98,0.88],[0.985,0.96],[0.92,0.69],[0.88,0.62],[0.86,0.62],
[0.710,0.531],[0.732,0.524],[0.769,0.517],[0.800,0.531],[0.826,0.524],[0.853,0.510],[0.884,0.517],[0.911,0.524],[0.937,0.503],[0.963,0.531],[0.979,0.534],[0.705,0.468],[0.726,0.474],[0.758,0.468],[0.795,0.474],[0.826,0.482],[0.858,0.460],[0.884,0.474],[0.916,0.489],[0.942,0.482],
[0.690,0.403],[0.726,0.425],[0.758,0.389],[0.769,0.410],[0.795,0.396],[0.811,0.410],[0.826,0.418],[0.858,0.389],[0.879,0.432],[0.900,0.425],[0.921,0.418],[0.942,0.439],[0.963,0.410],[0.605,0.378],[0.674,0.363],[0.690,0.332],[0.726,0.346],[0.769,0.353],[0.821,0.325],[0.842,0.311],[0.858,0.297],[0.884,0.282],[0.900,0.325],[0.937,0.268],[0.968,0.268],[0.521,0.303],[0.584,0.289],[0.632,0.318],[0.663,0.311],[0.700,0.297],[0.726,0.282],[0.747,0.261],[0.779,0.275],[0.800,0.268],[0.826,0.261],[0.868,0.254],[0.905,0.247],[0.947,0.254],[0.384,0.303],[0.547,0.204],[0.574,0.232],[0.605,0.204],[0.632,0.168],[0.653,0.247],[0.679,0.218],[0.705,0.239],[0.732,0.218],[0.769,0.197],[0.800,0.204],[0.826,0.218],[0.853,0.175],[0.879,0.182],[0.911,0.197],[0.937,0.161],[0.953,0.168],[0.979,0.154],[0.463,0.164],[0.495,0.182],[0.489,0.154],[0.521,0.126],[0.579,0.132],[0.611,0.126],[0.632,0.132],[0.663,0.118],[0.684,0.154],[0.710,0.132],[0.737,0.147],[0.769,0.126],[0.795,0.154],[0.821,0.132],[0.853,0.118],[0.874,0.132],[0.895,0.147],[0.921,0.126],[0.947,0.140],[0.963,0.154],[0.400,0.118],[0.384,0.093],[0.442,0.101],[0.463,0.076],[0.511,0.083],[0.558,0.104],[0.600,0.090],[0.642,0.090],[0.684,0.093],[0.726,0.083],[0.758,0.104],[0.789,0.093],[0.821,0.083],[0.853,0.093],[0.884,0.076],[0.916,0.093],[0.937,0.090],[0.968,0.093],[0.300,0.083],[0.326,0.061],[0.242,0.040],[0.274,0.047],
[0.2,0.02],[0.23,0.03],[0.26,0.015],[0.29,0.035],[0.32,0.02],[0.35,0.04],[0.37,0.025],[0.4,0.045],[0.42,0.02],[0.44,0.05],[0.46,0.03],[0.48,0.06],[0.5,0.025],[0.52,0.045],[0.54,0.065],[0.56,0.03],[0.58,0.05],[0.6,0.07],[0.62,0.035],[0.64,0.055],[0.66,0.025],[0.68,0.06],[0.7,0.04],[0.72,0.07],[0.74,0.03],[0.76,0.055],[0.78,0.04],[0.8,0.065],[0.82,0.03],[0.84,0.05],[0.86,0.07],[0.88,0.035],[0.9,0.055],[0.92,0.04],[0.94,0.06],[0.96,0.035],[0.98,0.05],[0.53,0.015],[0.57,0.02],[0.61,0.015],[0.65,0.02],[0.69,0.015],[0.73,0.02],[0.77,0.015],[0.81,0.02],[0.85,0.015],[0.89,0.02],[0.93,0.015],[0.35,0.015],[0.45,0.015],[0.13,0.012],[0.16,0.018],
[0.55,0.05],[0.59,0.08],[0.62,0.06],[0.66,0.08],[0.68,0.04],[0.7,0.09],[0.71,0.06],[0.73,0.1],[0.75,0.07],[0.77,0.09],[0.79,0.06],[0.8,0.1],[0.82,0.07],[0.83,0.1],[0.85,0.06],[0.87,0.1],[0.88,0.06],[0.89,0.1],[0.91,0.07],[0.93,0.1],[0.95,0.08],[0.97,0.1],[0.98,0.08],[0.7,0.16],[0.72,0.12],[0.74,0.17],[0.76,0.13],[0.78,0.16],[0.8,0.13],[0.82,0.16],[0.84,0.13],[0.86,0.16],[0.88,0.13],[0.9,0.16],[0.92,0.14],[0.94,0.12],[0.96,0.13],[0.98,0.12],[0.73,0.3],[0.73,0.32],[0.73,0.34],[0.73,0.36],[0.8,0.36],[0.8,0.38],[0.8,0.4],[0.83,0.38],[0.88,0.36],[0.97,0.35],[0.97,0.38],[0.9,0.38],[0.76,0.44],[0.7,0.4]];
const temPink = [[0.905,0.994],[0.911,0.973],[0.921,0.973],[0.937,0.980],[0.931,0.959],[0.916,0.952],[0.900,0.944],[0.889,0.956],[0.879,0.938],[0.868,0.944],[0.863,0.923],[0.879,0.916],[0.889,0.923],[0.905,0.923],[0.921,0.930],[0.937,0.944],[0.926,0.909],[0.942,0.923],[0.947,0.959],[0.853,0.938],[0.842,0.923],[0.826,0.919],[0.832,0.902],[0.816,0.873],[0.805,0.876],[0.821,0.866],[0.769,0.845],[0.789,0.831],[0.747,0.788],[0.769,0.788],[0.758,0.759],[0.911,0.902],[0.921,0.888],[0.937,0.902],[0.874,0.959],[0.858,0.952],[0.900,0.966],[0.942,0.966],[0.926,0.987],[0.874,0.905],[0.94,0.99],[0.945,0.97],[0.94,0.95],[0.945,0.93],[0.94,0.91],[0.945,0.9],[0.93,0.94],[0.925,0.96],[0.93,0.92],[0.935,0.9]];
const temCircles = [[0.921,0.99]];

// ---------- drawing ----------
Chart.defaults.font.family = '"Liberation Sans", Arial, sans-serif';
const pts = a => a.map(p => ({x:p[0], y:p[1]}));
const crossSet = (a, color, order) => ({data:pts(a), pointStyle:'crossRot', pointRadius:3, borderColor:color, backgroundColor:color, borderWidth:1.4, showLine:false, order});
const circleSet = (a, fill, border, r) => ({data:pts(a), pointStyle:'circle', pointRadius:r, backgroundColor:fill, borderColor:border, borderWidth:1, showLine:false, order:0});
const lineSet = (a, color, dash, order, hook) => ({data:pts(a), showLine:true, pointRadius:0, borderColor:color, borderWidth:1, borderDash:dash, cubicInterpolationMode:'monotone', fill:false, order, labelHook:!!hook});

const panelPlugin = {
  id:'panel',
  afterDatasetDraw(chart, args){
    if (!chart.data.datasets[args.index].labelHook) return;
    const {ctx, scales:{x, y}} = chart;
    ctx.save();
    ctx.font = '11.5px "Liberation Sans", Arial, sans-serif';
    ctx.textAlign = 'center'; ctx.textBaseline = 'middle';
    curveLabels.forEach((t, i) => {
      const px = x.getPixelForValue(curveLabelX[i]), py = y.getPixelForValue(curveLabelY[i]);
      const w = ctx.measureText(t).width;
      ctx.fillStyle = '#fff'; ctx.fillRect(px - w/2 - 2, py - 6, w + 4, 12);
      ctx.fillStyle = '#222'; ctx.fillText(t, px, py);
    });
    ctx.restore();
  },
  afterDraw(chart, args, opts){
    const {ctx, chartArea:a, scales:{x, y}} = chart;
    ctx.save();
    if (opts.fri) {
      const px = x.getPixelForValue(opts.fri[0]), py = y.getPixelForValue(opts.fri[1]);
      ctx.fillStyle = '#ff00ff'; ctx.textAlign = 'left'; ctx.textBaseline = 'alphabetic';
      ctx.font = '14px "Liberation Sans", Arial, sans-serif';
      ctx.fillText('FRI', px, py);
      const w = ctx.measureText('FRI').width;
      ctx.font = '10px "Liberation Sans", Arial, sans-serif';
      ctx.fillText(opts.sub, px + w + 0.5, py + 2);
    }
    ctx.strokeStyle = '#000'; ctx.lineWidth = 1;
    ctx.strokeRect(Math.round(a.left) + 0.5, Math.round(a.top) + 0.5, Math.round(a.right - a.left) - 1, Math.round(a.bottom - a.top) - 1);
    ctx.restore();
  }
};

function makePanel(id, cfg){
  const datasets = [
    ...cfg.circles,
    ...cfg.colored,
    crossSet(cfg.black, '#000', 2),
    lineSet(diagonal, '#1f1fff', [3,3], 3),
    lineSet(curveS1, '#b0b0b0', [4,3], 10, true),
    lineSet(curveS5, '#b0b0b0', [4,3], 11),
    lineSet(curveS10, '#b0b0b0', [4,3], 12),
    lineSet(curveS50, '#b0b0b0', [4,3], 13)
  ];
  new Chart(document.getElementById(id), {
    type:'scatter',
    data:{datasets},
    plugins:[panelPlugin],
    options:{
      responsive:false, animation:false, devicePixelRatio:1, events:[],
      layout:{padding:{left:0, top:cfg.padTop, right:cfg.padRight, bottom:0}},
      plugins:{legend:{display:false}, tooltip:{enabled:false}, panel:{fri:cfg.fri, sub:cfg.sub}},
      scales:{
        x:{type:'linear', min:cfg.xmin, max:cfg.xmax,
           afterFit(s){ s.height = cfg.xh; },
           afterBuildTicks(s){ s.ticks = tickValues.map(v => ({value:v})); },
           ticks:{autoSkip:false, maxRotation:0, padding:-2, color:'#000', font:{size:12}, callback:v => Number(v).toFixed(1)},
           grid:{drawOnChartArea:false, drawTicks:true, tickLength:6, color:'#000'},
           border:{display:false},
           title:{display:true, text:'Initial Allele Frequency', color:'#000', font:{size:15}, padding:{top:0, bottom:0}}},
        y:{type:'linear', min:-0.04, max:1.04,
           afterFit(s){ s.width = cfg.yw; },
           afterBuildTicks(s){ s.ticks = tickValues.map(v => ({value:v})); },
           ticks:{autoSkip:false, minRotation:90, maxRotation:90, crossAlign:'center', padding:-1, color:'#000', font:{size:12}, callback:v => Number(v).toFixed(1)},
           grid:{drawOnChartArea:false, drawTicks:true, tickLength:6, color:'#000'},
           border:{display:false},
           title:{display:true, text:'Fixation probability', color:'#000', font:{size:15}, padding:{top:6, bottom:0}}}
      }
    }
  });
}

makePanel('cREF', {padTop:7, padRight:8, yw:49, xh:34, xmin:-0.042, xmax:1.028,
  black:[...refBand, ...refBlack],
  colored:[crossSet(refGray, '#8e8e8e', 1)],
  circles:[circleSet(refCircles, '#000', '#000', 4.5)],
  fri:refFriLabel, sub:'Col'});
makePanel('cPHO', {padTop:8, padRight:8, yw:53, xh:34, xmin:-0.039, xmax:1.018,
  black:[...phoBand, ...phoBlack],
  colored:[crossSet(phoTeal, '#1ea9b9', 1)],
  circles:[circleSet(phoCircles, '#0000ff', '#0000ff', 5)],
  fri:phoFriLabel, sub:'ler'});
makePanel('cWAW', {padTop:7, padRight:9, yw:49, xh:36, xmin:-0.042, xmax:1.025,
  black:[...wawBand, ...wawBlack],
  colored:[crossSet(wawGreen, '#16bb45', 1)],
  circles:[circleSet(wawCircles, '#0b5a1c', '#0b5a1c', 4.8)],
  fri:null, sub:''});
makePanel('cTEM', {padTop:7, padRight:8, yw:53, xh:36, xmin:-0.039, xmax:1.025,
  black:[...temBand, ...temBlack],
  colored:[crossSet(temPink, '#e07f7f', 1)],
  circles:[circleSet(temCircles, '#ff8a8a', '#ff0000', 4.5)],
  fri:null, sub:''});
</script>
</body></html>
